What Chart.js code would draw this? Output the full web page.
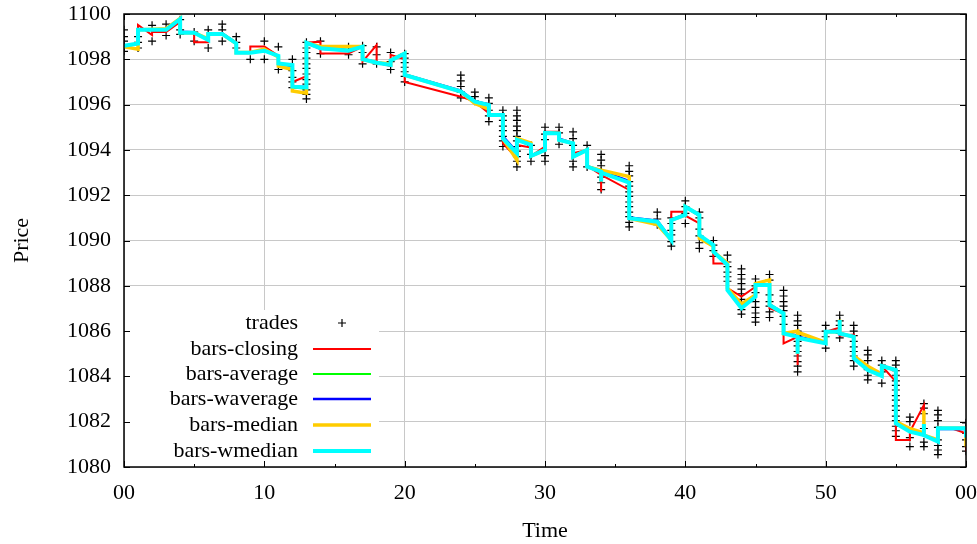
<!DOCTYPE html>
<html><head><meta charset="utf-8">
<script src="https://cdn.jsdelivr.net/npm/chart.js@4/dist/chart.umd.min.js"></script>
<style>html,body{margin:0;padding:0;background:#fff;}canvas{display:block;}</style>
</head><body>
<canvas id="c" width="977" height="544"></canvas>
<script>
// ---- tick labels ----
const xTickLabels = ['00','10','20','30','40','50','00'];
const yTickLabels = ['1080','1082','1084','1086','1088','1090','1092','1094','1096','1098','1100'];

// ---- trades: minute -> prices traded in that minute ----
const tradeMinutes = [0,1,2,3,4,5,6,7,8,9,10,11,12,13,14,16,17,18,19,20,24,25,26,27,28,29,30,31,32,33,34,36,38,39,40,41,42,43,44,45,46,47,48,50,51,52,53,54,55,56,57,58,60];
const tradePrices = [
 [1099.3,1099.0,1098.8,1098.55,1098.35],
 [1099.0,1098.75,1098.5],
 [1099.5,1098.8],
 [1099.55,1099.05],
 [1099.75,1099.3,1099.1],
 [1099.2,1098.8],
 [1099.3,1098.5],
 [1099.55,1099.3,1098.8],
 [1099.0,1098.75,1098.5],
 [1098.0],
 [1098.8,1098.0],
 [1098.55,1097.55],
 [1098.0,1097.5,1097.2,1097.0,1096.75],
 [1098.75,1098.5,1098.3,1098.05,1097.8,1097.6,1097.35,1097.1,1096.9,1096.65,1096.45,1096.25],
 [1098.8,1098.25],
 [1098.55,1098.2],
 [1098.6,1098.3,1097.8],
 [1098.55,1098.2,1097.8],
 [1098.3,1097.9,1097.55],
 [1098.25,1098.05,1097.85,1097.65,1097.45,1097.25,1097.0],
 [1097.3,1097.05,1096.8,1096.55,1096.3],
 [1096.55,1096.35,1096.15],
 [1096.3,1096.05,1095.75,1095.5,1095.25],
 [1095.75,1095.5,1095.3,1095.05,1094.85,1094.6,1094.4,1094.15],
 [1095.75,1095.5,1095.3,1095.05,1094.85,1094.6,1094.4,1094.15,1093.95,1093.7,1093.5,1093.25],
 [1094.2,1093.8,1093.5],
 [1095.0,1094.7,1094.45,1093.75,1093.5],
 [1095.0,1094.75,1094.25],
 [1094.8,1094.5,1094.2,1093.5,1093.25],
 [1094.2,1093.25],
 [1093.8,1093.55,1093.3,1093.05,1092.8,1092.55,1092.25],
 [1093.3,1093.05,1092.85,1092.6,1092.4,1092.15,1091.95,1091.7,1091.5,1091.25,1091.05,1090.8,1090.6],
 [1091.25,1090.95,1090.7],
 [1091.0,1090.75,1090.45,1090.25,1089.95,1089.75],
 [1091.75,1091.5,1091.2,1090.75],
 [1091.25,1091.0,1090.5,1090.2,1089.9,1089.65],
 [1090.0,1089.8,1089.55,1089.3],
 [1089.35,1089.05,1088.85,1088.6,1088.4,1088.2],
 [1088.75,1088.5,1088.3,1088.1,1087.85,1087.65,1087.4,1087.2,1086.95,1086.75],
 [1088.3,1088.0,1087.7,1087.3,1087.05,1086.8,1086.6,1086.4],
 [1088.5,1088.25,1087.6,1087.3,1087.1,1086.85,1086.6],
 [1087.8,1087.55,1087.3,1087.1,1086.9,1086.65,1086.3],
 [1086.7,1086.45,1086.25,1086.0,1085.8,1085.55,1085.35,1085.1,1084.9,1084.65,1084.45,1084.2],
 [1086.25,1086.0,1085.75,1085.25],
 [1086.7,1086.45,1086.25,1085.9,1085.7],
 [1086.25,1086.0,1085.8,1085.55,1085.3,1085.1,1084.9,1084.7,1084.45],
 [1085.15,1084.95,1084.7,1084.3,1084.05,1083.85],
 [1084.7,1084.5,1084.2,1083.7],
 [1084.7,1084.5,1084.25,1084.05,1083.8,1083.6,1083.4,1083.15,1082.95,1082.7,1082.5,1082.25,1082.05,1081.8,1081.6,1081.35],
 [1082.2,1082.0,1081.3,1080.9],
 [1082.8,1082.6,1082.35,1081.7,1081.1,1080.9],
 [1082.5,1082.3,1082.05,1081.75,1081.2,1080.95,1080.75,1080.55],
 [1081.95,1081.7,1081.5,1081.2,1080.9,1080.7]
];

// ---- bar series: [minute, price] ----
const barsClosing = [[0,1098.6],[1,1098.7],[1,1099.52],[2,1099.07],[2,1099.2],[3,1099.2],[4,1099.65],[4,1099.2],[5,1099.15],[5,1098.75],[6,1098.75],[6,1099.12],[7,1099.12],[8,1098.75],[8,1098.3],[9,1098.3],[9,1098.56],[10,1098.56],[11,1098.15],[11,1097.8],[12,1097.75],[12,1097.0],[13,1097.25],[13,1098.73],[14,1098.78],[14,1098.26],[16,1098.26],[17,1098.56],[17,1097.9],[18,1098.63],[18,1097.85],[19,1097.7],[19,1098.2],[20,1098.0],[20,1097.0],[24,1096.35],[25,1096.13],[26,1095.62],[26,1095.54],[27,1095.54],[27,1094.29],[28,1093.63],[28,1094.22],[29,1094.1],[29,1093.73],[30,1094.15],[30,1094.8],[31,1094.8],[31,1094.44],[32,1094.3],[32,1093.85],[33,1094.0],[33,1093.3],[34,1092.9],[34,1092.15],[34,1092.9],[36,1092.23],[36,1090.98],[38,1090.83],[39,1090.02],[39,1091.27],[40,1091.27],[40,1091.1],[41,1090.76],[41,1090.24],[42,1089.8],[42,1088.99],[43,1088.99],[43,1087.9],[44,1087.52],[45,1087.96],[45,1088.04],[46,1088.04],[46,1087.01],[47,1086.78],[47,1085.46],[48,1085.75],[48,1084.5],[48,1085.7],[50,1085.46],[50,1085.97],[51,1086.15],[51,1085.8],[52,1085.85],[52,1084.8],[53,1084.4],[54,1084.1],[54,1084.46],[55,1083.77],[55,1081.19],[56,1081.19],[56,1081.56],[57,1082.74],[57,1081.4],[58,1081.12],[58,1081.71],[59,1081.7],[60,1081.49],[60,1080.68]];
const barsAverage = [[0,1098.6],[1,1098.65],[1,1099.3],[3,1099.3],[4,1099.75],[4,1099.2],[5,1099.18],[6,1098.88],[6,1099.12],[7,1099.12],[8,1098.72],[8,1098.3],[9,1098.3],[10,1098.42],[11,1098.15],[11,1097.8],[12,1097.7],[12,1096.75],[13,1096.7],[13,1098.73],[14,1098.5],[16,1098.42],[17,1098.56],[17,1098.0],[18,1097.85],[19,1097.75],[19,1097.95],[20,1098.26],[20,1097.31],[24,1096.6],[25,1096.12],[26,1095.95],[26,1095.54],[27,1095.54],[27,1094.55],[28,1093.85],[28,1094.44],[29,1094.25],[29,1093.73],[30,1094.0],[30,1094.75],[31,1094.73],[31,1094.45],[32,1094.25],[32,1093.7],[33,1094.0],[33,1093.26],[34,1093.05],[34,1092.6],[34,1093.05],[36,1092.6],[36,1091.0],[38,1090.85],[39,1090.02],[39,1090.9],[40,1091.13],[40,1091.5],[41,1091.13],[41,1090.2],[42,1089.8],[42,1089.51],[43,1088.95],[43,1087.85],[44,1087.05],[45,1087.5],[45,1088.06],[46,1088.06],[46,1087.15],[47,1086.8],[47,1085.9],[48,1085.78],[48,1085.0],[48,1085.72],[50,1085.48],[50,1085.97],[51,1085.98],[51,1086.5],[51,1085.9],[52,1085.78],[52,1084.82],[53,1084.3],[54,1084.05],[54,1084.46],[55,1084.3],[55,1081.95],[56,1081.55],[57,1081.45],[57,1081.95],[57,1081.4],[58,1081.12],[58,1081.71],[60,1081.71],[60,1081.3]];
const barsWaverage = [[0,1098.6],[1,1098.68],[1,1099.3],[3,1099.3],[4,1099.76],[4,1099.22],[5,1099.2],[6,1098.85],[6,1099.15],[7,1099.15],[8,1098.7],[8,1098.32],[9,1098.3],[10,1098.4],[11,1098.13],[11,1097.8],[12,1097.72],[12,1096.8],[13,1096.78],[13,1098.73],[14,1098.47],[16,1098.4],[17,1098.55],[17,1098.02],[18,1097.87],[19,1097.76],[19,1097.96],[20,1098.26],[20,1097.33],[24,1096.62],[25,1096.15],[26,1096.0],[26,1095.54],[27,1095.54],[27,1094.6],[28,1093.9],[28,1094.44],[29,1094.2],[29,1093.73],[30,1094.0],[30,1094.75],[31,1094.73],[31,1094.5],[32,1094.3],[32,1093.72],[33,1094.0],[33,1093.28],[34,1093.08],[34,1092.6],[34,1093.08],[36,1092.62],[36,1091.02],[38,1090.88],[39,1090.05],[39,1090.92],[40,1091.15],[40,1091.49],[41,1091.1],[41,1090.22],[42,1089.8],[42,1089.5],[43,1088.93],[43,1087.83],[44,1087.1],[45,1087.55],[45,1088.04],[46,1088.04],[46,1087.18],[47,1086.8],[47,1085.92],[48,1085.8],[48,1085.0],[48,1085.75],[50,1085.5],[50,1085.97],[51,1085.97],[51,1086.45],[51,1085.85],[52,1085.78],[52,1084.8],[53,1084.3],[54,1084.05],[54,1084.46],[55,1084.3],[55,1081.93],[56,1081.6],[57,1081.45],[57,1081.85],[57,1081.42],[58,1081.12],[58,1081.68],[60,1081.68],[60,1081.3]];
const barsMedian = [[0,1098.55],[1,1098.45],[1,1099.3],[3,1099.35],[4,1099.8],[4,1099.17],[5,1099.17],[6,1098.9],[6,1099.12],[7,1099.12],[8,1098.7],[8,1098.3],[9,1098.3],[10,1098.45],[11,1098.1],[11,1097.7],[12,1097.55],[12,1096.6],[13,1096.5],[13,1098.73],[14,1098.56],[16,1098.56],[17,1098.56],[17,1098.0],[18,1097.85],[19,1097.8],[19,1097.95],[20,1098.26],[20,1097.31],[24,1096.57],[25,1096.05],[26,1095.8],[26,1095.54],[27,1095.54],[27,1094.5],[28,1093.55],[28,1094.51],[29,1094.3],[29,1093.73],[30,1094.0],[30,1094.75],[31,1094.73],[31,1094.44],[32,1094.29],[32,1093.7],[33,1094.0],[33,1093.26],[34,1093.1],[34,1092.6],[34,1093.1],[36,1092.82],[36,1090.98],[38,1090.7],[39,1090.02],[39,1090.9],[40,1091.13],[40,1091.49],[41,1091.13],[41,1090.1],[42,1089.75],[42,1089.51],[43,1089.0],[43,1087.9],[44,1087.2],[45,1087.6],[45,1088.1],[46,1088.26],[46,1087.15],[47,1086.78],[47,1085.9],[48,1086.0],[48,1085.0],[48,1085.95],[50,1085.5],[50,1085.97],[51,1085.97],[51,1086.5],[51,1085.9],[52,1085.75],[52,1084.9],[53,1084.45],[54,1084.1],[54,1084.46],[55,1084.28],[55,1082.0],[56,1081.7],[57,1081.5],[57,1082.5],[57,1081.4],[58,1081.2],[58,1081.71],[60,1081.71],[60,1080.9]];
const barsWmedian = [[0,1098.6],[1,1098.7],[1,1099.3],[3,1099.3],[4,1099.78],[4,1099.17],[5,1099.17],[6,1098.85],[6,1099.12],[7,1099.12],[8,1098.7],[8,1098.29],[9,1098.29],[10,1098.38],[11,1098.15],[11,1097.82],[12,1097.75],[12,1096.79],[13,1096.76],[13,1098.73],[14,1098.49],[16,1098.38],[17,1098.56],[17,1098.0],[18,1097.85],[19,1097.75],[19,1097.95],[20,1098.26],[20,1097.31],[24,1096.57],[25,1096.13],[26,1095.98],[26,1095.54],[27,1095.54],[27,1094.51],[28,1093.85],[28,1094.44],[29,1094.22],[29,1093.73],[30,1094.0],[30,1094.75],[31,1094.73],[31,1094.44],[32,1094.29],[32,1093.7],[33,1094.0],[33,1093.26],[34,1093.04],[34,1092.6],[34,1093.0],[36,1092.55],[36,1090.98],[38,1090.83],[39,1090.02],[39,1090.9],[40,1091.13],[40,1091.49],[41,1091.13],[41,1090.24],[42,1089.8],[42,1089.51],[43,1088.92],[43,1087.81],[44,1087.01],[45,1087.52],[45,1088.04],[46,1088.04],[46,1087.15],[47,1086.78],[47,1085.9],[48,1085.75],[48,1085.0],[48,1085.7],[50,1085.46],[50,1085.97],[51,1085.97],[51,1086.49],[51,1085.9],[52,1085.75],[52,1084.8],[53,1084.28],[54,1084.02],[54,1084.46],[55,1084.28],[55,1081.93],[56,1081.56],[57,1081.41],[57,1081.9],[57,1081.4],[58,1081.12],[58,1081.71],[60,1081.71],[60,1081.3]];

const seriesNames = ['trades','bars-closing','bars-average','bars-waverage','bars-median','bars-wmedian'];
const seriesColors = ['#000000','#ff0000','#00ff00','#0000ff','#ffcc00','#00ffff'];
const seriesWidths = [1,2,2,2.5,3.5,4];

const FONT = "'Liberation Serif','Times New Roman',serif";
const toXY = arr => arr.map(p => ({x:p[0], y:p[1]}));
const tradePts = [];
tradeMinutes.forEach((m,i) => tradePrices[i].forEach(v => tradePts.push({x:m, y:v})));

const lineSets = [barsClosing,barsAverage,barsWaverage,barsMedian,barsWmedian];
const datasets = [{
  label: seriesNames[0], data: tradePts, showLine:false,
  pointStyle:'cross', pointRadius:4, pointBorderWidth:1.2,
  borderColor:'#000', backgroundColor:'#000', order:6
}];
lineSets.forEach((s,i) => datasets.push({
  label: seriesNames[i+1], data: toXY(s), showLine:true, pointRadius:0,
  borderColor: seriesColors[i+1], backgroundColor: seriesColors[i+1],
  borderWidth: seriesWidths[i+1], tension:0, order:5-i,
  borderJoinStyle:'miter'
}));

const framePlugin = {
  id:'frame',
  afterDatasetsDraw(chart){
    const {ctx, chartArea:a, scales} = chart;
    ctx.save();
    // opaque legend box
    ctx.fillStyle = '#fff';
    ctx.fillRect(a.left+1, 310, 254, a.bottom-310-5);
    // legend entries
    const rows = [323,349,374,399,425,451];
    ctx.font = "22px " + FONT;
    ctx.textAlign = 'right'; ctx.textBaseline = 'middle'; ctx.fillStyle = '#000';
    rows.forEach((y,i) => {
      ctx.fillText(seriesNames[i], 298, y);
      if (i === 0) {
        ctx.strokeStyle = '#000'; ctx.lineWidth = 1.2;
        ctx.beginPath(); ctx.moveTo(338,y); ctx.lineTo(346,y); ctx.moveTo(342,y-4); ctx.lineTo(342,y+4); ctx.stroke();
      } else {
        ctx.strokeStyle = seriesColors[i]; ctx.lineWidth = seriesWidths[i];
        ctx.beginPath(); ctx.moveTo(313,y); ctx.lineTo(371,y); ctx.stroke();
      }
    });
    // border
    ctx.strokeStyle = '#000'; ctx.lineWidth = 1.5;
    ctx.strokeRect(a.left, a.top, a.right-a.left, a.bottom-a.top);
    // inward ticks
    ctx.lineWidth = 1;
    ctx.beginPath();
    const xs = scales.x, ys = scales.y;
    for (let m = 0; m <= 60; m += 5) {
      const px = Math.round(xs.getPixelForValue(m)) + 0.5;
      const L = (m % 10 === 0) ? 6 : 3;
      ctx.moveTo(px, a.bottom); ctx.lineTo(px, a.bottom - L);
      ctx.moveTo(px, a.top); ctx.lineTo(px, a.top + L);
    }
    for (let v = 1080; v <= 1100; v += 2) {
      const py = Math.round(ys.getPixelForValue(v)) + 0.5;
      ctx.moveTo(a.left, py); ctx.lineTo(a.left + 6, py);
      ctx.moveTo(a.right, py); ctx.lineTo(a.right - 6, py);
    }
    ctx.stroke();
    ctx.restore();
  }
};

new Chart(document.getElementById('c'), {
  type:'scatter',
  data:{datasets},
  options:{
    responsive:false, animation:false, devicePixelRatio:1,
    layout:{padding:{top:14,right:11,left:0,bottom:0}},
    plugins:{legend:{display:false}, tooltip:{enabled:false}},
    scales:{
      x:{
        type:'linear', min:0, max:60,
        ticks:{stepSize:10, autoSkip:false, maxRotation:0, padding:13, color:'#000',
          font:{family:FONT, size:22},
          callback:(v,i) => xTickLabels[i]},
        grid:{color:'#c8c8c8', lineWidth:1, drawTicks:false},
        border:{display:false},
        title:{display:true, text:'Time', color:'#000', font:{family:FONT, size:22}, padding:{top:0,bottom:0}},
        afterFit(a){ a.height = 77; a.paddingLeft = 0; a.paddingRight = 0; }
      },
      y:{
        min:1080, max:1100,
        ticks:{stepSize:2, padding:13, color:'#000',
          font:{family:FONT, size:22},
          callback:(v,i) => yTickLabels[i]},
        grid:{color:'#c8c8c8', lineWidth:1, drawTicks:false},
        border:{display:false},
        title:{display:true, text:'Price', color:'#000', font:{family:FONT, size:22}, padding:{top:9,bottom:0}},
        afterFit(a){ a.width = 124; a.paddingTop = 0; a.paddingBottom = 0; }
      }
    }
  },
  plugins:[framePlugin]
});
</script>
</body></html>
